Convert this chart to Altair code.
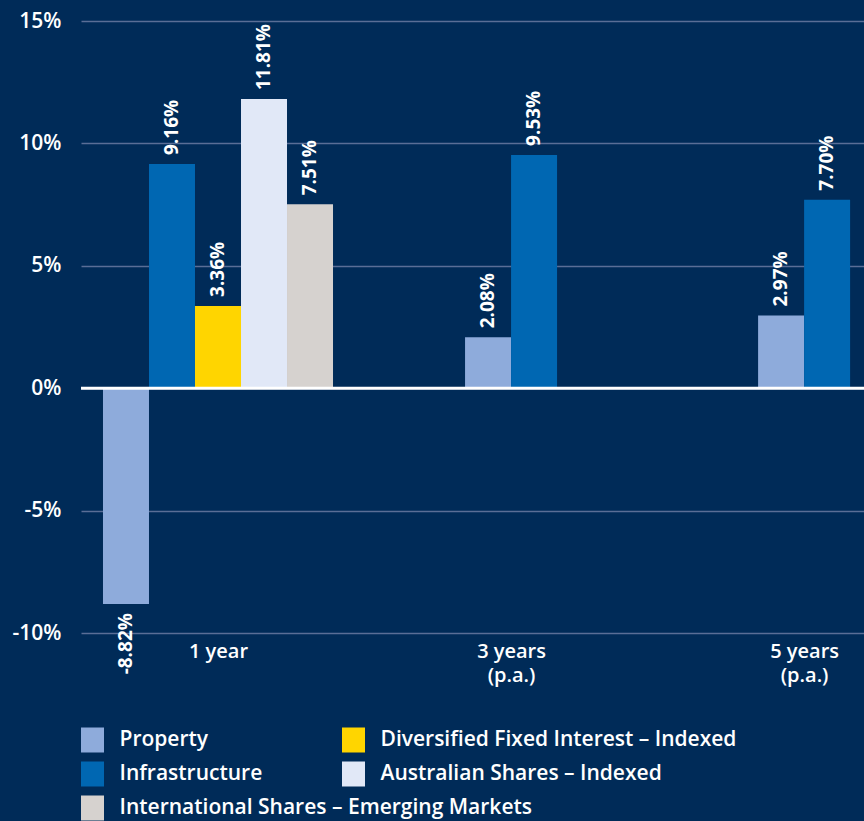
import altair as alt
import pandas as pd

# ---------------- data ----------------
periods = ["1 year", "3 years\n(p.a.)", "5 years\n(p.a.)"]

legend_order = [
    "Property",
    "Diversified Fixed Interest – Indexed",
    "Infrastructure",
    "Australian Shares – Indexed",
    "International Shares – Emerging Markets",
]
legend_colors = ["#8eabdb", "#ffd500", "#0067b2", "#e1e8f7", "#d6d2cf"]

bar_order = [
    "Property",
    "Infrastructure",
    "Diversified Fixed Interest – Indexed",
    "Australian Shares – Indexed",
    "International Shares – Emerging Markets",
]

property_vals = [-8.82, 2.08, 2.97]
infrastructure_vals = [9.16, 9.53, 7.70]
div_fixed_vals = [3.36, None, None]
aus_shares_vals = [11.81, None, None]
intl_em_vals = [7.51, None, None]

y_ticks = [-10, -5, 0, 5, 10, 15]

# ---------------- style / layout ----------------
BG = "#002b58"
GRID = "#5a6e96"
WHITE = "#ffffff"
FONT = "Open Sans"
FIRST_CENTRE = 2.978   # slot units (1 slot = one bar width)
GROUP_STEP = 6.37
X_DOMAIN = [0, 17.02]
PLOT_W, PLOT_H = 783, 612

series = dict(zip(bar_order, [property_vals, infrastructure_vals, div_fixed_vals,
                              aus_shares_vals, intl_em_vals]))

rows = []
centres = []
for g, p in enumerate(periods):
    present = [(c, series[c][g]) for c in bar_order if series[c][g] is not None]
    n = len(present)
    centre = FIRST_CENTRE + g * GROUP_STEP
    centres.append(centre)
    for i, (c, v) in enumerate(present):
        mid = centre + (i - (n - 1) / 2)
        rows.append({"period": p, "category": c, "value": v,
                     "x0": mid - 0.5, "x1": mid + 0.5, "xm": mid})
df = pd.DataFrame(rows)


def js_lines(label):
    return "[" + ",".join("'" + s + "'" for s in label.split("\n")) + "]"


label_expr = js_lines(periods[-1])
for k in range(len(periods) - 2, -1, -1):
    mid = (centres[k] + centres[k + 1]) / 2
    label_expr = f"datum.value < {mid:.3f} ? {js_lines(periods[k])} : ({label_expr})"

xs = alt.Scale(domain=X_DOMAIN, nice=False, zero=False)
ys = alt.Scale(domain=[y_ticks[0], y_ticks[-1]], nice=False)
cs = alt.Scale(domain=legend_order, range=legend_colors)

x_axis = alt.Axis(values=centres, labelExpr=label_expr, domain=False, ticks=False,
                  grid=False, labelPadding=8, labelFontSize=20, labelColor=WHITE,
                  labelFont=FONT, labelFontWeight=600, labelLineHeight=24,
                  labelOverlap=False, labelAngle=0, title=None)
y_axis = alt.Axis(values=y_ticks, labelExpr="datum.value + '%'", domain=False,
                  ticks=False, grid=True, gridColor=GRID, gridWidth=1.5,
                  labelPadding=20, labelFontSize=21, labelColor=WHITE,
                  labelFont=FONT, labelFontWeight=600, title=None)

base = alt.Chart(df).transform_calculate(
    lbl="(datum.value < 0 ? '-' : '') + format(abs(datum.value), '.2f') + '%'"
)

bars = base.mark_bar().encode(
    x=alt.X("x0:Q", scale=xs, axis=x_axis),
    x2="x1:Q",
    y=alt.Y("value:Q", scale=ys, axis=y_axis),
    y2=alt.datum(0),
    color=alt.Color("category:N", scale=cs, legend=None),
)

zero = alt.Chart(pd.DataFrame({"v": [0]})).mark_rule(color=WHITE, strokeWidth=3).encode(
    y=alt.Y("v:Q", scale=ys)
)

txt_common = dict(angle=270, baseline="middle", fontSize=19, fontWeight="bold",
                  font=FONT, color=WHITE)
pos_labels = base.transform_filter("datum.value >= 0").mark_text(
    align="left", dx=9, **txt_common
).encode(
    x=alt.X("xm:Q", scale=xs),
    y=alt.Y("value:Q", scale=ys),
    text="lbl:N",
)
neg_labels = base.transform_filter("datum.value < 0").mark_text(
    align="right", dx=-9, **txt_common
).encode(
    x=alt.X("xm:Q", scale=xs),
    y=alt.Y("value:Q", scale=ys),
    text="lbl:N",
)

main = alt.layer(bars, zero, pos_labels, neg_labels)

# ---------------- legend (drawn as a layer) ----------------
leg_df = pd.DataFrame({
    "category": legend_order,
    "col": [i % 2 for i in range(len(legend_order))],
    "row": [i // 2 for i in range(len(legend_order))],
})
lx = alt.Scale(domain=[0, 1], range=[11.5, 272.5])
ly = alt.Scale(domain=[0, 2], range=[719, 787])
leg_base = alt.Chart(leg_df)
leg_sym = leg_base.mark_point(shape="M-0.92,-1H0.92V1H-0.92Z", filled=True, size=625,
                              opacity=1, strokeWidth=0).encode(
    x=alt.X("col:Q", scale=lx, axis=None),
    y=alt.Y("row:Q", scale=ly, axis=None),
    color=alt.Color("category:N", scale=cs, legend=None),
)
leg_txt = leg_base.mark_text(align="left", baseline="middle", dx=27, fontSize=21,
                             font=FONT, fontWeight=600, color=WHITE).encode(
    x=alt.X("col:Q", scale=lx, axis=None),
    y=alt.Y("row:Q", scale=ly, axis=None),
    text="category:N",
)
legend = alt.layer(leg_sym, leg_txt)

chart = alt.layer(main, legend).resolve_scale(
    x="independent", y="independent"
).properties(
    width=PLOT_W, height=PLOT_H, background=BG,
    padding={"left": 81, "top": 21, "right": 0, "bottom": 188},
    autosize=alt.AutoSizeParams(type="none"),
).configure_view(stroke=None)

chart.save("out.html", embed_options={"renderer": "svg", "actions": False})
